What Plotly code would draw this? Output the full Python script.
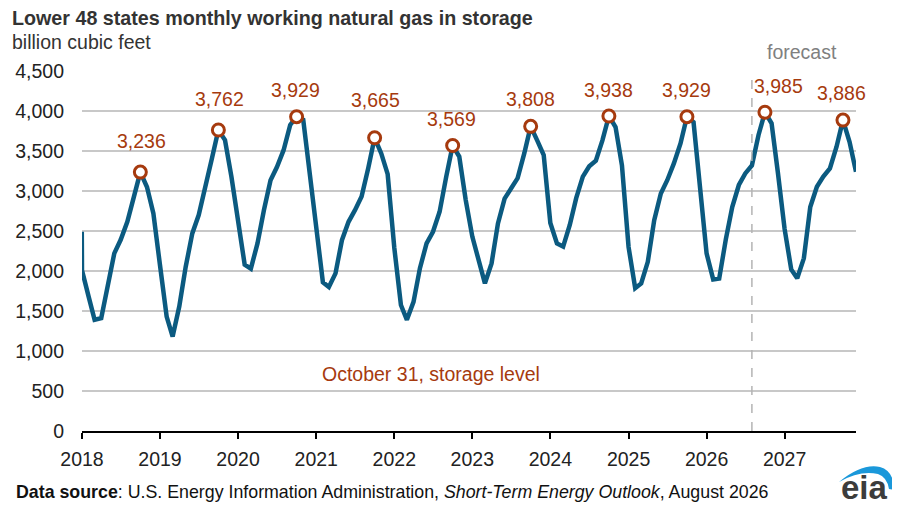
import pandas as pd
import plotly.graph_objects as go

# monthly working gas in storage, Lower 48 (billion cubic feet), Jan..Dec
years = list(range(2018, 2028))
storage = {
    2018: [2010, 1680, 1390, 1410, 1830, 2220, 2390, 2615, 2930, 3236, 3050, 2720],
    2019: [2070, 1430, 1180, 1555, 2050, 2470, 2700, 3030, 3410, 3762, 3637, 3180],
    2020: [2650, 2080, 2030, 2345, 2760, 3135, 3300, 3510, 3825, 3929, 3890, 3250],
    2021: [2540, 1860, 1800, 1970, 2385, 2615, 2760, 2930, 3285, 3665, 3470, 3210],
    2022: [2290, 1575, 1390, 1615, 2035, 2345, 2490, 2740, 3180, 3569, 3430, 2890],
    2023: [2430, 2095, 1845, 2095, 2595, 2905, 3035, 3160, 3470, 3808, 3630, 3450],
    2024: [2600, 2345, 2305, 2575, 2910, 3180, 3310, 3380, 3635, 3938, 3800, 3320],
    2025: [2300, 1785, 1845, 2115, 2635, 2970, 3135, 3345, 3595, 3929, 3860, 3000],
    2026: [2220, 1895, 1905, 2395, 2800, 3075, 3220, 3320, 3700, 3985, 3846, 3220],
    2027: [2525, 2020, 1910, 2158, 2800, 3054, 3180, 3283, 3554, 3886, 3612, 3241],
}
# last value of 2017, the line starts there
dec_2017_date = '2017-12-31'
dec_2017_value = 2490
forecast_start = '2026-08-01'

dates = [dec_2017_date]
values = [dec_2017_value]
for y in years:
    for m in range(12):
        dates.append('%d-%02d-01' % (y, m + 1))
        values.append(storage[y][m])
df = pd.DataFrame({'date': pd.to_datetime(dates), 'value': values})
october = df[df.date.dt.month == 10]

LINE = '#0b5a80'
RED = '#a63a0e'
FONT = 'Liberation Sans, Arial, sans-serif'
FS = 19.5

fig = go.Figure()
fig.add_trace(go.Scatter(x=df.date, y=df.value, mode='lines',
                         line=dict(color=LINE, width=4.5), hoverinfo='skip'))
fig.add_trace(go.Scatter(x=october.date, y=october.value, mode='markers',
                         marker=dict(size=12, color='white', line=dict(color=RED, width=3)),
                         hoverinfo='skip', cliponaxis=False))

# labels above the October points
yshifts = [31, 31, 27, 38, 26, 27, 26, 27, 26, 27]
xshifts = [1, 1, -1, 1, -1, 0, 0, 0, 14, -1]
for (d, v), ys, xs in zip(october[['date', 'value']].values, yshifts, xshifts):
    fig.add_annotation(x=d, y=v, text='{:,}'.format(int(v)), showarrow=False,
                       yshift=ys, xshift=xs, font=dict(size=FS, color=RED, family=FONT))


# page pixel -> paper position (plot area is 774 x 360 px, top-left at 82, 71)
def px(x, y):
    return (x - 82) / 774.0, (431 - y) / 360.0


def note(x, y, text, size=FS, color='#333333', anchor='left', vanchor='middle'):
    ax, ay = px(x, y)
    fig.add_annotation(x=ax, y=ay, xref='paper', yref='paper', xanchor=anchor, yanchor=vanchor,
                       text=text, showarrow=False, font=dict(size=size, color=color, family=FONT))


fig.add_shape(type='line', x0=forecast_start, x1=forecast_start, yref='paper', y0=0, y1=0.99,
              line=dict(color='#b4b4b4', width=1.5, dash='dash'))
fig.add_annotation(x=forecast_start, y=px(0, 52)[1], yref='paper', yanchor='middle',
                   text='forecast', showarrow=False, xanchor='left', xshift=13,
                   font=dict(size=FS, color='#808080', family=FONT))
note(431, 374, 'October 31, storage level', color=RED, anchor='center')

# title, units, source
note(10, 18, '<b>Lower 48 states monthly working natural gas in storage</b>', size=19.7)
note(10, 42, 'billion cubic feet')
note(14, 492, '<b>Data source</b>: U.S. Energy Information Administration, '
              '<i>Short-Term Energy Outlook</i>, August 2026', size=17.8, color='#111111')

# eia logo
def pt(x, y):
    a, b = px(x, y)
    return '%.4f,%.4f' % (a, b)


arc = ('M' + pt(839, 482) + ' Q' + pt(862, 463) + ' ' + pt(880, 467) +
       ' Q' + pt(894, 471) + ' ' + pt(894, 490) + ' L' + pt(889, 489) +
       ' Q' + pt(887, 477) + ' ' + pt(878, 474) + ' Q' + pt(860, 470) + ' ' + pt(839, 482) + ' Z')
fig.add_shape(type='path', path=arc, xref='paper', yref='paper',
              fillcolor='#1a98da', line=dict(width=0))
note(864, 508.5, '<b>eia</b>', size=33, color='#3c3c3c', anchor='center', vanchor='bottom')

# the page adds an 8 px body margin, so the figure is 8 px smaller on each side
fig.update_layout(
    width=884, height=501,
    margin=dict(l=74, r=36, t=63, b=78),
    paper_bgcolor='white', plot_bgcolor='white',
    showlegend=False,
    font=dict(family=FONT, size=FS, color='#222222'),
)
fig.update_xaxes(range=['2018-01-01', '2027-12-01'], automargin=False,
                 tickvals=['%d-01-01' % y for y in years], ticktext=[str(y) for y in years],
                 showgrid=False, showline=True, linecolor='black', linewidth=2,
                 ticks='outside', ticklen=6, tickwidth=1.5, tickcolor='black',
                 ticklabelstandoff=4, zeroline=False)
fig.update_yaxes(range=[0, 4500], dtick=500, tickformat=',', showgrid=True, automargin=False,
                 gridcolor='#c8c8c8', gridwidth=1.5, zeroline=False, showline=False,
                 ticklabelstandoff=17)

fig.write_html('out.html')
